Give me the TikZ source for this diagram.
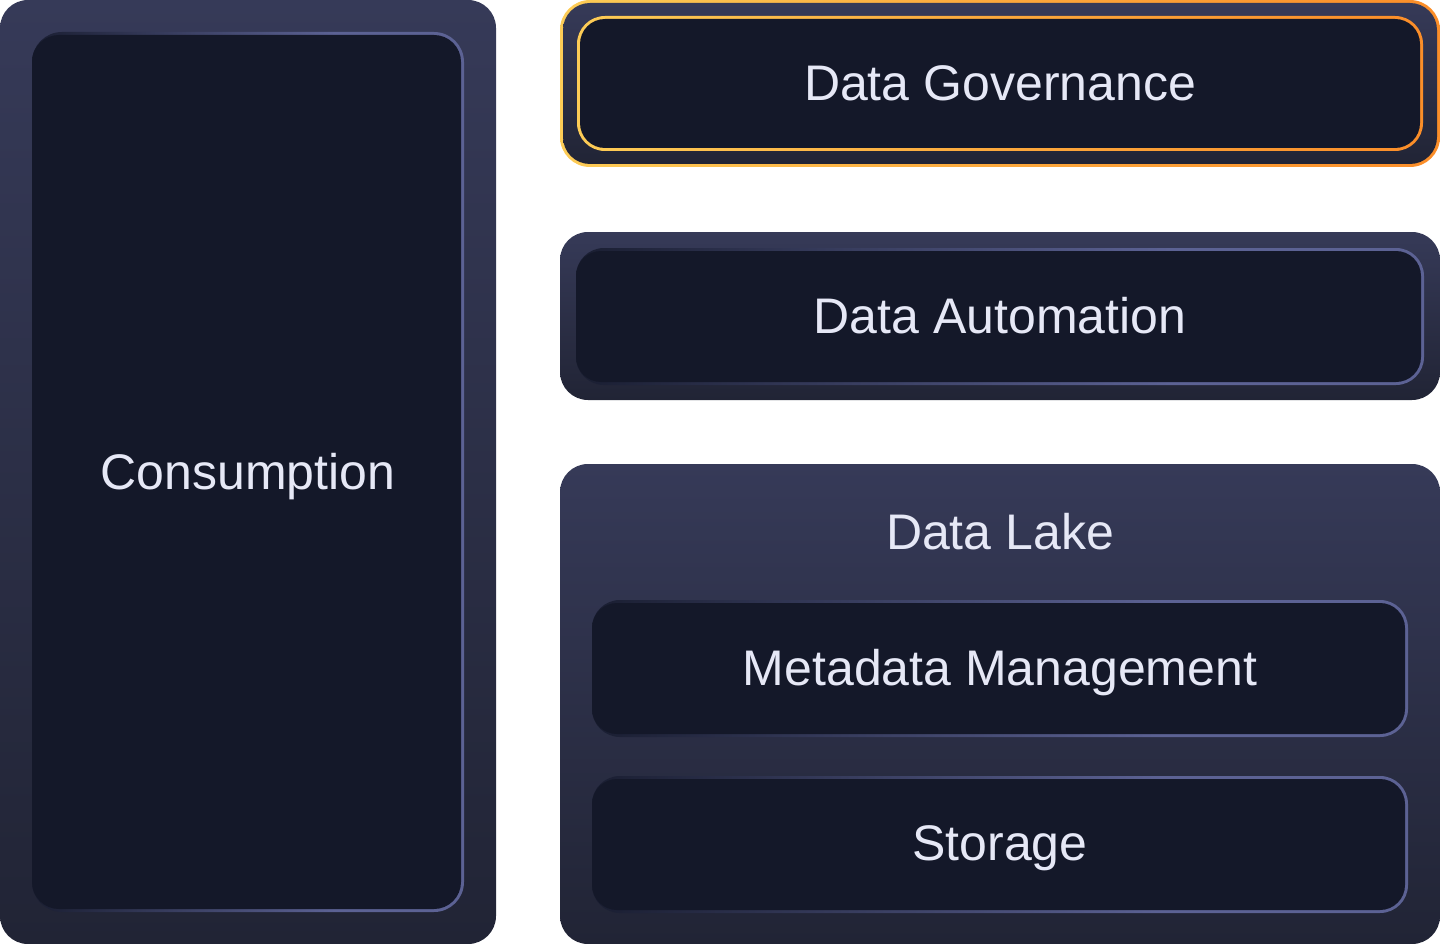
\documentclass[tikz,border=0pt]{standalone}
\usepackage{fontspec}
\setmainfont{Liberation Sans}
\definecolor{outerTop}{HTML}{363A58}
\definecolor{outerBot}{HTML}{212435}
\definecolor{innerbg}{HTML}{141829}
\definecolor{bordercol}{HTML}{5C6294}
\definecolor{textcol}{HTML}{E6E8F6}
\definecolor{gyellow}{HTML}{FFF070}
\definecolor{gmid}{HTML}{FCA83C}
\definecolor{gorange}{HTML}{F97316}
\pgfdeclarehorizontalshading{borderfade}{100bp}{color(0bp)=(innerbg); color(22bp)=(innerbg); color(60bp)=(bordercol); color(100bp)=(bordercol)}
\pgfdeclarehorizontalshading{goldfade}{100bp}{color(0bp)=(gyellow); color(50bp)=(gmid); color(100bp)=(gorange)}
\tikzset{
  outerbox/.style={top color=outerTop, bottom color=outerBot, rounded corners=28pt},
  fadeborder/.style={shading=borderfade, rounded corners=28pt},
  goldborder/.style={shading=goldfade, rounded corners=28pt},
  innerfill/.style={fill=innerbg, rounded corners=25pt},
  label/.style={text=textcol, font=\fontsize{50}{60}\selectfont, inner sep=0pt, anchor=base}
}
\begin{document}
\begin{tikzpicture}[x=1pt, y=-1pt]
\useasboundingbox (0,0) rectangle (1440,944);
% Consumption
\shade[outerbox] (0,0) rectangle (496,944);
\shade[fadeborder, rounded corners=30pt] (32,32) rectangle (464,912);
\fill[innerfill, rounded corners=27pt] (32,35) rectangle (461,909);
\node[label] (cons) at (248,489) {Consumption};
% Data Governance
\shade[goldborder, rounded corners=30pt] (560,0) rectangle (1440,167);
\shade[top color=outerTop, bottom color=outerBot, rounded corners=27pt] (563,3) rectangle (1437,164);
\shade[goldborder] (577,16) rectangle (1423,151);
\fill[innerfill] (580,19) rectangle (1420,148);
\node[label] (gov) at (1000,100.5) {Data Governance};
% Data Automation
\shade[outerbox] (560,232) rectangle (1440,400);
\shade[fadeborder] (576,248) rectangle (1424,385);
\fill[innerfill] (576,251) rectangle (1421,382);
\node[label] (auto) at (1000,333) {Data Automation};
% Data Lake
\shade[outerbox] (560,464) rectangle (1440,944);
\node[label] (lake) at (1000,549) {Data Lake};
\shade[fadeborder] (592,600) rectangle (1408,737);
\fill[innerfill] (592,603) rectangle (1405,734);
\node[label] (meta) at (1000,685) {Metadata Management};
\shade[fadeborder] (592,776) rectangle (1408,913);
\fill[innerfill] (592,779) rectangle (1405,910);
\node[label] (stor) at (1000,860) {Storage};
\end{tikzpicture}
\end{document}
